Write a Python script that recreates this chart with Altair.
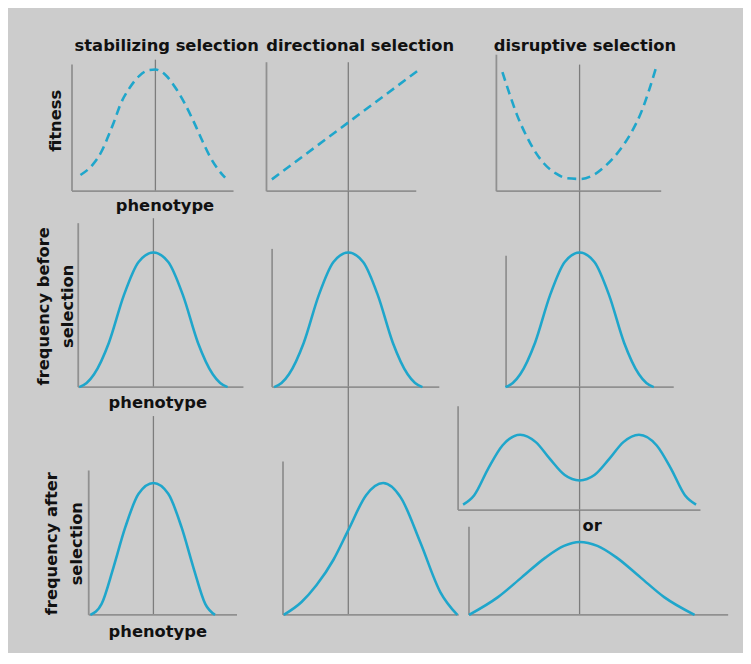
import altair as alt
import pandas as pd

# ---------------- data ----------------
# phenotype = offset from the mean phenotype (arbitrary units)
# value     = fitness / relative frequency (peak of the original population = 100)

# fitness curves (row 1)
stab_fit_x = [-10.1, -8.5, -7.3, -6.5, -5.6, -4.7, -3.6, -2.2, -0.9, 0, 1.3, 2.7, 4.0, 5.3, 6.4, 7.5, 8.7, 9.4]
stab_fit_y = [11.9, 19.3, 29.0, 38.8, 51.1, 64.6, 75.6, 85.4, 89.9, 90.3, 86.6, 76.8, 64.6, 49.9, 36.4, 24.1, 14.3, 9.9]

dir_fit_x = [-10.3, 9.3]
dir_fit_y = [8.8, 89.3]

disr_fit_x = [-10.4, -9.5, -8.4, -7.2, -6.1, -4.8, -3.2, -1.7, 0.1, 1.9, 3.6, 5.4, 7.0, 8.3, 9.4, 10.3]
disr_fit_y = [88.5, 73.3, 56.2, 41.5, 30.4, 20.6, 13.2, 9.6, 9.1, 12.1, 19.4, 30.4, 43.9, 58.6, 75.7, 91.7]

# frequency before selection (row 2, same population in all three columns)
before_x = [-10, -9, -8, -6, -4, -2, 0, 2, 4, 6, 8, 9, 10]
before_y = [0, 3, 9.5, 33, 68, 93, 100, 93, 68, 33, 9.5, 3, 0]

# frequency after selection (row 3)
stab_after_x = [-8.5, -7.0, -5.4, -3.8, -2.0, 0, 2.0, 3.8, 5.4, 7.0, 8.3]
stab_after_y = [0, 8, 35, 65, 90, 98, 90, 65, 35, 8, 0]

dir_after_x = [-8.7, -6.3, -4.3, -2.0, 0, 2.4, 4.7, 7.1, 9.7, 12.4, 14.7]
dir_after_y = [0, 9.6, 22, 41, 63, 89, 98, 87, 54, 17, 0]

disr_bimodal_x = [-15.7, -14.2, -12.3, -10.4, -8.0, -5.9, -4.0, -2.0, 0, 2.0, 4.0, 5.9, 8.0, 10.4, 12.3, 14.2, 15.7]
disr_bimodal_y = [4, 11, 31, 48, 56, 50.5, 38, 26, 22, 26, 38, 50.5, 56, 48, 31, 11, 4]

disr_broad_x = [-14.9, -11.0, -7.8, -4.6, -2.1, 0, 2.4, 5.0, 8.2, 11.4, 15.5]
disr_broad_y = [0, 13.2, 27.9, 42.6, 51.3, 54.2, 51.3, 42.6, 27.9, 13.2, 0]

# texts
column_titles = ["stabilizing selection", "directional selection", "disruptive selection"]
row_titles = ["fitness", "frequency before\nselection", "frequency after\nselection"]
x_title = "phenotype"
or_text = "or"

# ---------------- layout & style ----------------
OFF = 8          # page margin (image px -> view px)
KX = 7.5         # px per phenotype unit
KY = 1.36        # px per value unit
CURVE = "#1fa6cb"
AXIS = "#909090"
MEAN = "#7c7c7c"
TEXT = "#111111"
FONT = "DejaVu Sans"
FS = 16.5

# (left, right, baseline, top, mean x, mean-line top, mean-line bottom) in image px
panels = [
    (stab_fit_x, stab_fit_y, True, (72.7, 236, 189.5, 61.7, 157, 56.7, 189.5)),
    (dir_fit_x, dir_fit_y, True, (269.3, 420.7, 189.7, 59.3, 352, 59.3, 189.7)),
    (disr_fit_x, disr_fit_y, True, (501.7, 668.3, 189.7, 51.7, 585.8, 61.7, 189.7)),
    (before_x, before_y, False, (79, 246, 387.7, 222, 155, 217, 387.7)),
    (before_x, before_y, False, (275, 444, 387.7, 248, 352, 189.7, 387.7)),
    (before_x, before_y, False, (511.5, 681, 387.7, 255, 585.8, 189.7, 387.7)),
    (stab_after_x, stab_after_y, False, (89.6, 239.5, 618, 472, 155, 417, 618)),
    (dir_after_x, dir_after_y, False, (286, 463.6, 618, 463, 352, 387.7, 618)),
    (disr_bimodal_x, disr_bimodal_y, False, (463, 708, 512, 407, 585.8, 387.7, 512)),
    (disr_broad_x, disr_broad_y, False, (474, 736, 618, 529, 585.8, 512, 618)),
]


def panel(xs, ys, dashed, box):
    left, right, base, top, mean, ltop, lbot = box
    xdom = [(left - mean) / KX, (right - mean) / KX]
    ydom = [0, (base - top) / KY]
    xsc = alt.Scale(domain=xdom, range=[left - OFF, right - OFF], nice=False, zero=False)
    ysc = alt.Scale(domain=ydom, range=[base - OFF, top - OFF], nice=False, zero=False)
    one = pd.DataFrame({"k": [0]})

    mean_line = alt.Chart(one).mark_rule(color=MEAN, strokeWidth=1.3).encode(
        x=alt.XDatum(0, type="quantitative", scale=xsc, axis=None),
        y=alt.value(ltop - OFF),
        y2=alt.value(lbot - OFF),
    )
    y_axis = alt.Chart(one).mark_rule(color=AXIS, strokeWidth=1.8).encode(
        x=alt.XDatum(xdom[0], type="quantitative", scale=xsc, axis=None),
        y=alt.YDatum(ydom[0], type="quantitative", scale=ysc, axis=None),
        y2=alt.Y2Datum(ydom[1]),
    )
    x_axis = alt.Chart(one).mark_rule(color=AXIS, strokeWidth=1.8).encode(
        x=alt.XDatum(xdom[0], type="quantitative", scale=xsc, axis=None),
        x2=alt.X2Datum(xdom[1]),
        y=alt.YDatum(ydom[0], type="quantitative", scale=ysc, axis=None),
    )
    line_kw = dict(color=CURVE, strokeWidth=2.6, interpolate="monotone")
    if dashed:
        line_kw["strokeDash"] = [9, 5.5]
    df = pd.DataFrame({"phenotype": xs, "value": ys})
    curve = alt.Chart(df).mark_line(**line_kw).encode(
        x=alt.X("phenotype:Q", scale=xsc, axis=None),
        y=alt.Y("value:Q", scale=ysc, axis=None),
    )
    return alt.layer(mean_line, y_axis, x_axis, curve)


def label(text, x, y, angle=0, line_height=None):
    kw = dict(font=FONT, fontSize=FS, fontWeight="bold", color=TEXT,
              align="center", baseline="middle")
    if angle:
        kw["angle"] = angle
    if line_height:
        kw["lineBreak"] = "\n"
        kw["lineHeight"] = line_height
    return alt.Chart(pd.DataFrame({"t": [text]})).mark_text(**kw).encode(
        text="t:N", x=alt.value(x - OFF), y=alt.value(y - OFF)
    )


layers = [panel(*p) for p in panels]
layers += [
    label(column_titles[0], 168.5, 42.8),
    label(column_titles[1], 364, 42.8),
    label(column_titles[2], 591.2, 42.8),
    label(row_titles[0], 56.3, 118.5, angle=270),
    label(row_titles[1], 44, 306, angle=270, line_height=25),
    label(row_titles[2], 53, 546, angle=270, line_height=25),
    label(x_title, 166.7, 204.8),
    label(x_title, 159.4, 404.3),
    label(x_title, 159.4, 635.3),
    label(or_text, 598.5, 528.5),
]

chart = (
    alt.layer(*layers)
    .resolve_scale(x="independent", y="independent")
    .properties(width=743, height=645, autosize=alt.AutoSizeParams(type="none"),
                padding=0, background="#cccccc")
    .configure_view(strokeWidth=0)
)

chart.save("out.html", embed_options={"renderer": "svg", "actions": False})
